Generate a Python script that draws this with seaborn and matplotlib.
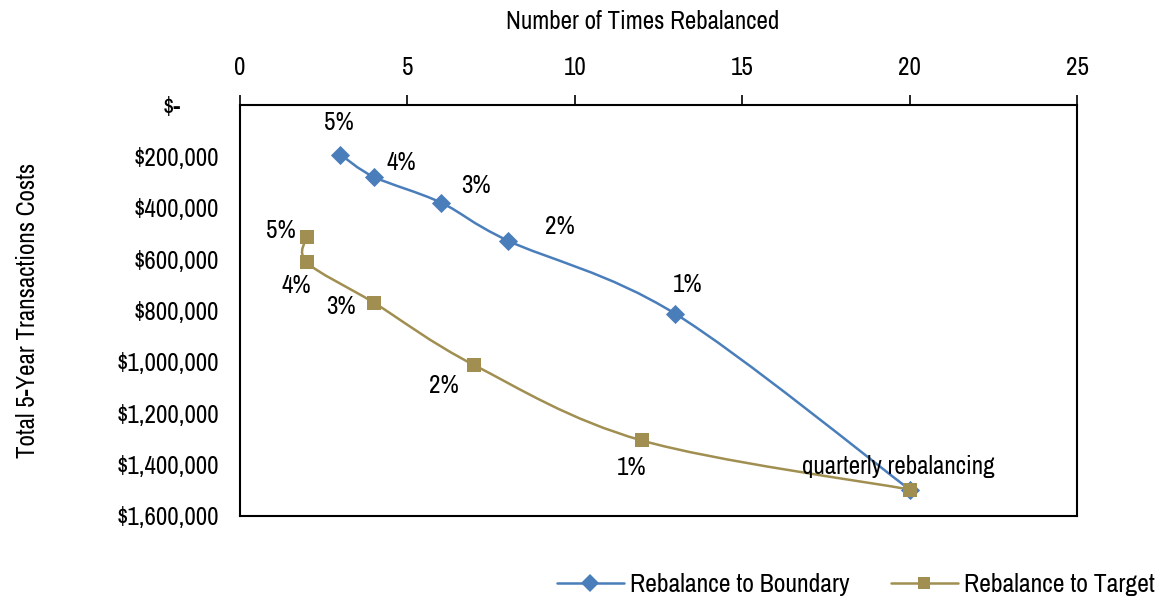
import numpy as np
import matplotlib
matplotlib.use("Agg")
import matplotlib.pyplot as plt
from matplotlib.path import Path
from matplotlib.patches import PathPatch
from matplotlib.lines import Line2D
from matplotlib.ticker import FuncFormatter
import seaborn as sns

# Rebalancing frequency vs. total transaction costs, by tolerance band
bands = ["5%", "4%", "3%", "2%", "1%", "quarterly rebalancing"]
boundary_times = [3, 4, 6, 8, 13, 20]
boundary_costs = [193000, 280000, 380000, 528000, 813000, 1497000]
target_times = [2, 2, 4, 7, 12, 20]
target_costs = [513000, 613000, 770000, 1013000, 1306000, 1497000]

x_ticks = [0, 5, 10, 15, 20, 25]
y_ticks = [0, 200000, 400000, 600000, 800000, 1000000, 1200000, 1400000, 1600000]

BLUE = "#4A7EBB"
GOLD = "#A08F50"
FS = 18

sns.set_theme(style="white")
plt.rcParams["font.family"] = ["Archivo Narrow", "DejaVu Sans"]
for key in ("text.color", "axes.labelcolor", "xtick.color", "ytick.color",
            "xtick.labelcolor", "ytick.labelcolor"):
    plt.rcParams[key] = "black"

fig = plt.figure(figsize=(11.64, 6.04), dpi=100)
ax = fig.add_axes([0.2062, 0.1457, 0.7191, 0.6805])


def smooth_path(xs, ys):
    """Cubic Bezier path through the points (Catmull-Rom style smoothing)."""
    pts = np.column_stack([xs, ys]).astype(float)
    n = len(pts)
    verts = [pts[0]]
    codes = [Path.MOVETO]
    for i in range(n - 1):
        p0 = pts[max(i - 1, 0)]
        p1 = pts[i]
        p2 = pts[i + 1]
        p3 = pts[min(i + 2, n - 1)]
        c1 = p1 + (p2 - p0) / 6.0
        c2 = p2 - (p3 - p1) / 6.0
        verts += [c1, c2, p2]
        codes += [Path.CURVE4] * 3
    return Path(verts, codes)


for xs, ys, color in [(boundary_times, boundary_costs, BLUE),
                      (target_times, target_costs, GOLD)]:
    ax.add_patch(PathPatch(smooth_path(xs, ys), facecolor="none",
                           edgecolor=color, lw=1.8, zorder=2))

sns.scatterplot(x=boundary_times, y=boundary_costs, ax=ax, marker="D",
                s=95, color=BLUE, edgecolor=BLUE, linewidth=0, zorder=3)
sns.scatterplot(x=target_times, y=target_costs, ax=ax, marker="s",
                s=90, color=GOLD, edgecolor=GOLD, linewidth=0, zorder=4)

# Band labels, offset in pixels from each marker
boundary_offsets = [(-2, 32), (27, 14), (35, 17), (52, 14), (12, 29)]
target_offsets = [(-26, 6), (-11, -23), (-33, -4), (-31, -20), (-10, -27), (-11, 23)]
for lab, x, y, off in zip(bands[:5], boundary_times, boundary_costs, boundary_offsets):
    ax.annotate(lab, (x, y), xytext=off, textcoords="offset pixels",
                ha="center", va="center", fontsize=FS, zorder=5)
for lab, x, y, off in zip(bands, target_times, target_costs, target_offsets):
    ax.annotate(lab, (x, y), xytext=off, textcoords="offset pixels",
                ha="center", va="center", fontsize=FS, zorder=5)

ax.set_xlim(0, 25)
ax.set_ylim(1600000, 0)
ax.set_xticks(x_ticks)
ax.set_yticks(y_ticks)
# accounting-style format: the zero entry sits inset from the other labels
ax.yaxis.set_major_formatter(FuncFormatter(
    lambda v, _: "" if v == 0 else f"${v:,.0f}"))
ax.annotate("$-", xy=(0, 0), xycoords=ax.get_yaxis_transform(),
            xytext=(-59, -3), textcoords="offset pixels",
            ha="right", va="center", fontsize=FS)
ax.xaxis.tick_top()
ax.xaxis.set_label_position("top")
ax.tick_params(axis="both", which="major", direction="out", length=7,
               width=1.2, color="black", labelsize=FS, pad=8)
ax.tick_params(axis="x", pad=12)
ax.set_xlabel("Number of Times Rebalanced", fontsize=FS)
ax.xaxis.set_label_coords(0.4815, 1.185)
ax.set_ylabel("Total 5-Year Transactions Costs", fontsize=FS, labelpad=56)
for sp in ax.spines.values():
    sp.set_visible(True)
    sp.set_color("black")
    sp.set_linewidth(1.5)
ax.grid(False)

handles = [
    Line2D([], [], color=BLUE, lw=1.8, marker="D", markersize=9,
           markeredgewidth=0, label="Rebalance to Boundary"),
    Line2D([], [], color=GOLD, lw=1.8, marker="s", markersize=9,
           markeredgewidth=0, label="Rebalance to Target"),
]
fig.legend(handles=handles, loc="lower right", bbox_to_anchor=(1.012, -0.025),
           ncol=2, frameon=False, fontsize=18.5, handlelength=2.6,
           columnspacing=1.6, handletextpad=0.25)

fig.savefig("out.png", dpi=100)
